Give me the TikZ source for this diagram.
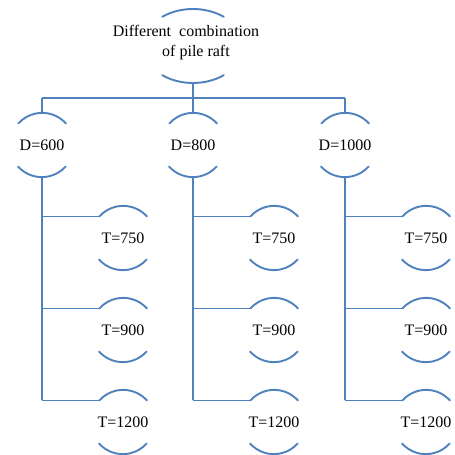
\documentclass[tikz,border=0pt]{standalone}
\usepackage{fontspec}
\setmainfont{Liberation Serif}
\usetikzlibrary{calc,shapes.geometric}
\definecolor{arcblue}{RGB}{79,129,189}
\begin{document}
\begin{tikzpicture}[x=1pt,y=1pt,
  cnode/.style={circle,draw=none,minimum size=64pt,inner sep=0pt,font=\fontsize{16}{20}\selectfont},
  topnode/.style={ellipse,draw=none,minimum width=100pt,minimum height=74pt,inner sep=0pt,font=\fontsize{16}{20}\selectfont,align=center},
  bline/.style={draw=arcblue,line width=1.9pt},
  arcline/.style={draw=arcblue,line width=1.9pt,line cap=round}]
\useasboundingbox (0,0) rectangle (455,455);
\newcommand\cirarcs[1]{%
  \draw[arcline] (#1.42) arc[start angle=42,end angle=138,radius=32pt];
  \draw[arcline] (#1.222) arc[start angle=222,end angle=318,radius=32pt];}
% top node
\node[topnode] (top) at (193,409) {};
\node[font=\fontsize{16}{20}\selectfont,align=center] (toplabel) at (186,412) {Different\ \ combination\\\hspace*{20pt}of pile raft};
\draw[arcline] ($(top.center)+(52:50pt and 37pt)$) arc[start angle=52,end angle=128,x radius=50pt,y radius=37pt];
\draw[arcline] ($(top.center)+(232:50pt and 37pt)$) arc[start angle=232,end angle=308,x radius=50pt,y radius=37pt];
% D nodes
\node[cnode] (d1) at (42,310) {D=600};
\node[cnode] (d2) at (193,310) {D=800};
\node[cnode] (d3) at (345,310) {D=1000};
% T nodes
\foreach \c/\x in {1/123,2/274,3/426}{
  \node[cnode] (t\c a) at (\x,217) {T=750};
  \node[cnode] (t\c b) at (\x,125) {T=900};
  \node[cnode] (t\c c) at (\x,33) {T=1200};
}
\foreach \n in {d1,d2,d3,t1a,t1b,t1c,t2a,t2b,t2c,t3a,t3b,t3c}{\cirarcs{\n}}
% connectors
\coordinate (busL) at (42,357);
\coordinate (busR) at (345,357);
\draw[bline] (top.south) -- (top.south |- busL);
\draw[bline] (busL) -- (busR);
\foreach \d in {d1,d2,d3}{\draw[bline] (\d.north |- busL) -- (\d.north);}
\foreach \c in {1,2,3}{
  \draw[bline] (d\c.south) -- (d\c.south |- t\c c.138);
  \foreach \r in {a,b,c}{\draw[bline] (d\c.south |- t\c\r.138) -- (t\c\r.138);}
}
\end{tikzpicture}
\end{document}
